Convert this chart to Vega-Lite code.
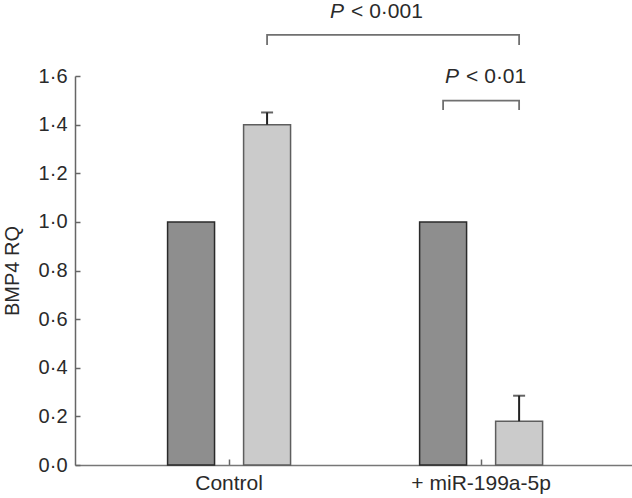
{
  "$schema": "https://vega.github.io/schema/vega-lite/v6.json",
  "width": 557,
  "height": 389,
  "autosize": {"type": "none"},
  "padding": {"left": 75, "top": 76, "right": 0, "bottom": 33},
  "background": "white",
  "config": {
    "view": {"stroke": null},
    "font": "Liberation Sans",
    "axis": {"labelFont": "Liberation Sans", "titleFont": "Liberation Sans", "labelColor": "#2a2a2a", "titleColor": "#2a2a2a", "domainColor": "#666", "tickColor": "#666", "domainWidth": 1.5, "tickWidth": 1.5, "grid": false}
  },
  "datasets": {
    "bars": [
      {"group": "Control", "series": "A", "value": 1.0},
      {"group": "Control", "series": "B", "value": 1.4, "err": 1.45},
      {"group": "+ miR-199a-5p", "series": "A", "value": 1.0},
      {"group": "+ miR-199a-5p", "series": "B", "value": 0.18, "err": 0.285}
    ],
    "brackets": [
      {"id": 1, "ord": 1, "group": "Control", "series": "B", "y": 1.728},
      {"id": 1, "ord": 2, "group": "Control", "series": "B", "y": 1.769},
      {"id": 1, "ord": 3, "group": "+ miR-199a-5p", "series": "B", "y": 1.769},
      {"id": 1, "ord": 4, "group": "+ miR-199a-5p", "series": "B", "y": 1.728},
      {"id": 2, "ord": 1, "group": "+ miR-199a-5p", "series": "A", "y": 1.46},
      {"id": 2, "ord": 2, "group": "+ miR-199a-5p", "series": "A", "y": 1.499},
      {"id": 2, "ord": 3, "group": "+ miR-199a-5p", "series": "B", "y": 1.499},
      {"id": 2, "ord": 4, "group": "+ miR-199a-5p", "series": "B", "y": 1.46}
    ],
    "labels": [
      {"id": 1, "group": "Control", "series": "B", "y": 1.8375, "p": "P", "rest": "< 0·001"},
      {"id": 2, "group": "+ miR-199a-5p", "series": "A", "y": 1.571, "p": "P", "rest": "< 0·01"}
    ]
  },
  "encoding": {
    "x": {
      "field": "group", "type": "nominal", "sort": null,
      "scale": {"domain": ["Control", "+ miR-199a-5p"], "paddingInner": 0, "paddingOuter": 0.105, "align": 0.53},
      "axis": {"title": null, "labelAngle": 0, "labelFontSize": 21, "labelPadding": 13, "tickSize": -6, "domainColor": "#777"}
    },
    "xOffset": {
      "field": "series", "type": "nominal",
      "scale": {"domain": ["A", "B"], "paddingInner": 0.382, "paddingOuter": 0.849}
    }
  },
  "layer": [
    {
      "data": {"name": "bars"},
      "mark": {"type": "bar", "strokeWidth": 1.5},
      "encoding": {
        "y": {
          "field": "value", "type": "quantitative",
          "scale": {"domain": [0, 1.6], "nice": false, "zero": true},
          "axis": {"title": "BMP4 RQ", "titleFontSize": 20, "titleFontWeight": "normal", "titlePadding": 16, "labelFontSize": 20, "labelPadding": 13, "tickSize": -5, "values": [0, 0.2, 0.4, 0.6, 0.8, 1.0, 1.2, 1.4, 1.6], "labelExpr": "replace(format(datum.value, '.1f'), '.', '·')"}
        },
        "fill": {"field": "series", "type": "nominal", "scale": {"domain": ["A", "B"], "range": ["#8e8e8e", "#cbcbcb"]}, "legend": null},
        "stroke": {"field": "series", "type": "nominal", "scale": {"domain": ["A", "B"], "range": ["#2a2a2a", "#5e5e5e"]}, "legend": null}
      }
    },
    {
      "data": {"name": "bars"},
      "transform": [{"filter": "isValid(datum.err)"}],
      "mark": {"type": "rule", "color": "#222", "strokeWidth": 2},
      "encoding": {
        "y": {"field": "value", "type": "quantitative"},
        "y2": {"field": "err"}
      }
    },
    {
      "data": {"name": "bars"},
      "transform": [{"filter": "isValid(datum.err)"}],
      "mark": {"type": "tick", "color": "#222", "size": 12, "thickness": 2, "orient": "horizontal"},
      "encoding": {
        "y": {"field": "err", "type": "quantitative"}
      }
    },
    {
      "data": {"name": "brackets"},
      "mark": {"type": "line", "color": "#707070", "strokeWidth": 1.8},
      "encoding": {
        "y": {"field": "y", "type": "quantitative"},
        "order": {"field": "ord", "type": "quantitative"},
        "detail": {"field": "id", "type": "nominal"}
      }
    },
    {
      "data": {"name": "labels"},
      "transform": [{"filter": "datum.id == 1"}],
      "mark": {"type": "text", "align": "right", "baseline": "alphabetic", "fontSize": 21, "fontStyle": "italic", "color": "#2a2a2a", "dx": 77},
      "encoding": {"y": {"field": "y", "type": "quantitative"}, "text": {"field": "p"}}
    },
    {
      "data": {"name": "labels"},
      "transform": [{"filter": "datum.id == 1"}],
      "mark": {"type": "text", "align": "left", "baseline": "alphabetic", "fontSize": 21, "color": "#2a2a2a", "dx": 84},
      "encoding": {"y": {"field": "y", "type": "quantitative"}, "text": {"field": "rest"}}
    },
    {
      "data": {"name": "labels"},
      "transform": [{"filter": "datum.id == 2"}],
      "mark": {"type": "text", "align": "right", "baseline": "alphabetic", "fontSize": 21, "fontStyle": "italic", "color": "#2a2a2a", "dx": 16},
      "encoding": {"y": {"field": "y", "type": "quantitative"}, "text": {"field": "p"}}
    },
    {
      "data": {"name": "labels"},
      "transform": [{"filter": "datum.id == 2"}],
      "mark": {"type": "text", "align": "left", "baseline": "alphabetic", "fontSize": 21, "color": "#2a2a2a", "dx": 23},
      "encoding": {"y": {"field": "y", "type": "quantitative"}, "text": {"field": "rest"}}
    }
  ]
}
